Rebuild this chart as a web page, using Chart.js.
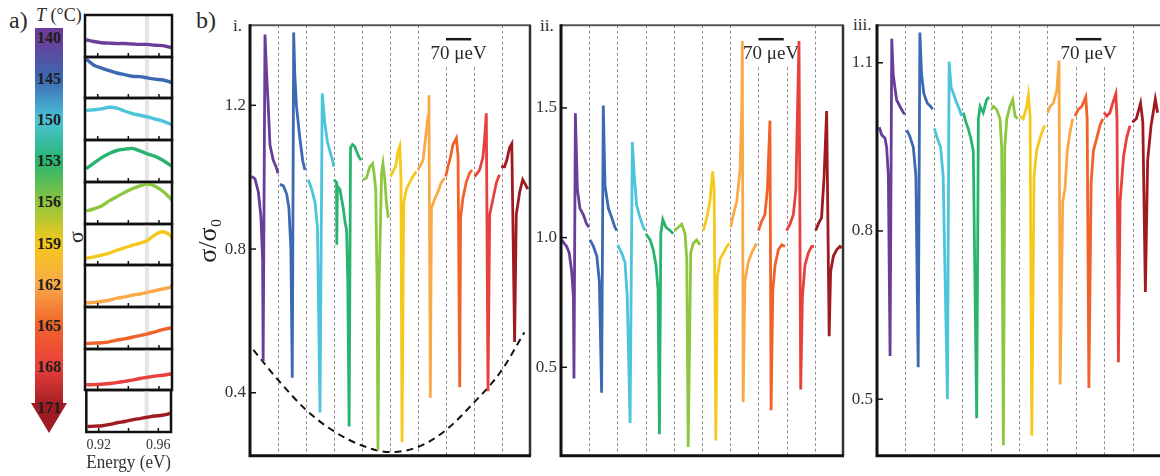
<!DOCTYPE html>
<html>
<head>
<meta charset="utf-8">
<script src="https://cdn.jsdelivr.net/npm/chart.js@4.4.1/dist/chart.umd.min.js"></script>
<style>
  body { margin: 0; width: 1160px; height: 476px; overflow: hidden; background: #fff; position: relative;
         font-family: "Liberation Serif", serif; color: #2a2a2a; }
  canvas { position: absolute; }
  .lbl { position: absolute; white-space: nowrap; line-height: 1; }
  .temp { position: absolute; width: 28px; text-align: center; font-weight: bold; font-size: 16px; color: #1e1e1e; line-height: 1; }
</style>
</head>
<body>
<div class="lbl" style="left:9px;top:8px;font-size:24px">a)</div>
<div class="lbl" style="left:36px;top:6px;font-size:18px"><i>T</i> (°C)</div>
<div class="lbl" style="left:196px;top:8px;font-size:24px">b)</div>
<div class="lbl" style="left:233px;top:17px;font-size:17px">i.</div>
<div class="lbl" style="left:540px;top:17px;font-size:17px">ii.</div>
<div class="lbl" style="left:853px;top:16px;font-size:17px">iii.</div>
<div class="lbl" style="left:70px;top:226px;font-size:22px;transform:rotate(-90deg)">σ</div>
<div id="bar" style="position:absolute;left:35px;top:28px;width:28px;height:375px"></div>
<div style="position:absolute;left:31px;top:403px;width:0;height:0;border-left:18px solid transparent;border-right:18px solid transparent;border-top:30px solid #9e1b22"></div>

<script>
// temperatures of the ten spectra and the colour used for each
const temperatures = [140, 145, 150, 153, 156, 159, 162, 165, 168, 171];
const palette = ['#6a3d98', '#3b69b2', '#4cc4d9', '#28b46f', '#8dc63f',
                 '#f5c81c', '#f9aa48', '#f1622a', '#e8403c', '#a01b21'];

// broadband spectra (left column), sigma in arbitrary units per strip
const energyGrid = [0.9125, 0.9175, 0.9225, 0.9275, 0.9325, 0.9375, 0.9425,
                    0.9475, 0.9525, 0.9575, 0.9625, 0.9675, 0.9685];
const stripSpectra = [
  [0.41, 0.37, 0.34, 0.33, 0.32, 0.32, 0.31, 0.30, 0.30, 0.28, 0.27, 0.23, 0.22],
  [0.95, 0.80, 0.73, 0.67, 0.61, 0.57, 0.53, 0.52, 0.49, 0.46, 0.44, 0.39, 0.37],
  [0.70, 0.72, 0.74, 0.78, 0.76, 0.69, 0.63, 0.59, 0.55, 0.50, 0.45, 0.38, 0.36],
  [0.32, 0.45, 0.58, 0.68, 0.75, 0.78, 0.80, 0.74, 0.67, 0.61, 0.52, 0.40, 0.37],
  [0.31, 0.36, 0.43, 0.55, 0.65, 0.75, 0.84, 0.91, 0.95, 0.90, 0.78, 0.61, 0.57],
  [0.16, 0.20, 0.24, 0.29, 0.36, 0.42, 0.48, 0.53, 0.60, 0.74, 0.81, 0.72, 0.64],
  [0.10, 0.11, 0.13, 0.16, 0.21, 0.24, 0.28, 0.31, 0.35, 0.39, 0.43, 0.47, 0.53],
  [0.13, 0.14, 0.15, 0.17, 0.21, 0.24, 0.28, 0.32, 0.36, 0.41, 0.46, 0.50, 0.51],
  [0.13, 0.13, 0.14, 0.16, 0.18, 0.21, 0.24, 0.28, 0.31, 0.34, 0.36, 0.39, 0.40],
  [0.13, 0.14, 0.15, 0.18, 0.22, 0.25, 0.29, 0.32, 0.35, 0.38, 0.40, 0.44, 0.46]
];
const energyRange = [0.9117, 0.9685];
const energyTicks = [0.92, 0.94, 0.96];
const energyTickLabels = ['0.92', '', '0.96'];
const bandRange = [0.9508, 0.9534];

// narrow scans: one window per temperature, x in window units
const segmentEdges = [1, 2, 3, 4, 5, 6, 7, 8, 9];
const scaleBarSpan = [7.0, 7.9];

const panelI = [
  [[0.06, 1.002], [0.18, 0.995], [0.30, 0.958], [0.39, 0.89], [0.45, 0.77], [0.47, 0.488], [0.535, 1.397], [0.595, 1.286], [0.652, 1.197], [0.713, 1.09], [0.831, 1.047], [0.927, 1.03], [1.0, 1.011]],
  [[1.07, 0.98], [1.19, 0.976], [1.31, 0.953], [1.39, 0.914], [1.46, 0.80], [1.51, 0.442], [1.56, 1.403], [1.60, 1.286], [1.66, 1.197], [1.78, 1.109], [1.88, 1.047], [1.96, 1.02]],
  [[2.08, 0.993], [2.20, 0.967], [2.32, 0.931], [2.41, 0.86], [2.50, 0.345], [2.58, 1.233], [2.67, 1.153], [2.76, 1.10], [2.85, 1.073], [2.95, 1.047], [2.99, 1.029]],
  [[3.0, 0.993], [3.09, 0.985], [3.10, 0.812], [3.12, 0.975], [3.21, 0.967], [3.27, 0.94], [3.33, 0.914], [3.39, 0.878], [3.45, 0.852], [3.49, 0.72], [3.54, 0.306], [3.59, 1.082], [3.66, 1.091], [3.74, 1.086], [3.80, 1.073], [3.89, 1.056], [3.97, 1.047]],
  [[4.04, 0.993], [4.16, 0.998], [4.28, 1.029], [4.38, 1.038], [4.43, 1.011], [4.49, 0.967], [4.54, 0.70], [4.57, 0.24], [4.61, 0.70], [4.70, 1.011], [4.75, 1.038], [4.81, 0.998], [4.87, 0.931], [4.94, 0.887]],
  [[5.02, 1.002], [5.11, 1.016], [5.20, 1.03], [5.29, 1.073], [5.35, 1.087], [5.39, 1.0], [5.43, 0.262], [5.49, 0.93], [5.59, 0.967], [5.70, 0.985], [5.82, 1.002], [5.94, 1.016]],
  [[6.00, 1.02], [6.06, 1.029], [6.18, 1.047], [6.27, 1.109], [6.36, 1.171], [6.39, 1.228], [6.44, 0.386], [6.48, 0.914], [6.60, 0.94], [6.71, 0.958], [6.83, 0.985], [6.95, 0.998]],
  [[6.99, 1.002], [7.07, 1.029], [7.16, 1.056], [7.25, 1.091], [7.37, 1.109], [7.43, 1.06], [7.49, 0.415], [7.52, 0.887], [7.60, 0.94], [7.72, 0.985], [7.84, 1.011], [7.93, 1.02]],
  [[8.02, 1.002], [8.08, 1.007], [8.20, 1.02], [8.32, 1.056], [8.38, 1.109], [8.44, 1.178], [8.50, 0.404], [8.56, 0.896], [8.68, 0.94], [8.80, 0.985], [8.91, 1.007]],
  [[8.97, 1.029], [9.09, 1.029], [9.17, 1.047], [9.27, 1.082], [9.35, 1.093], [9.45, 0.541], [9.51, 0.896], [9.63, 0.958], [9.74, 0.993], [9.86, 0.976], [9.92, 0.967]]
];
const envelopeI = [[0.12, 0.519], [1.01, 0.435], [2.02, 0.351], [2.99, 0.293], [4.0, 0.253], [4.99, 0.235],
                   [6.0, 0.249], [6.98, 0.295], [7.94, 0.368], [8.94, 0.457], [9.8, 0.568]];

const panelII = [
  [[0.02, 0.991], [0.20, 0.966], [0.29, 0.942], [0.38, 0.868], [0.44, 0.77], [0.46, 0.457], [0.51, 1.479], [0.58, 1.187], [0.67, 1.113], [0.79, 1.089], [0.91, 1.052], [0.99, 1.04]],
  [[1.03, 0.991], [1.15, 0.966], [1.27, 0.929], [1.36, 0.831], [1.44, 0.402], [1.50, 1.509], [1.56, 1.20], [1.68, 1.113], [1.80, 1.077], [1.91, 1.04], [1.98, 1.027]],
  [[2.01, 0.972], [2.15, 0.941], [2.27, 0.904], [2.35, 0.77], [2.45, 0.285], [2.53, 1.369], [2.60, 1.236], [2.68, 1.126], [2.80, 1.077], [2.92, 1.04], [2.98, 1.027]],
  [[3.01, 1.015], [3.16, 0.991], [3.27, 0.954], [3.37, 0.893], [3.44, 0.80], [3.49, 0.242], [3.54, 1.015], [3.61, 1.07], [3.72, 1.04], [3.87, 1.027], [3.98, 1.015]],
  [[4.02, 1.027], [4.16, 1.04], [4.28, 1.052], [4.40, 1.015], [4.46, 0.917], [4.51, 0.193], [4.60, 0.941], [4.69, 0.978], [4.81, 0.991], [4.93, 0.972]],
  [[5.05, 1.027], [5.17, 1.077], [5.28, 1.138], [5.38, 1.255], [5.43, 1.187], [5.49, 0.218], [5.54, 0.843], [5.64, 0.917], [5.76, 0.941], [5.88, 0.966], [5.97, 0.978]],
  [[6.02, 1.04], [6.11, 1.089], [6.23, 1.138], [6.35, 1.261], [6.41, 1.506], [6.43, 1.758], [6.46, 0.365], [6.52, 0.831], [6.64, 0.905], [6.76, 0.941], [6.88, 0.966], [6.94, 0.978]],
  [[7.00, 1.027], [7.12, 1.064], [7.23, 1.089], [7.32, 1.187], [7.41, 1.451], [7.45, 0.334], [7.51, 0.795], [7.59, 0.893], [7.71, 0.954], [7.83, 0.972], [7.94, 0.966]],
  [[8.00, 1.027], [8.12, 1.052], [8.24, 1.089], [8.33, 1.187], [8.39, 1.506], [8.44, 1.758], [8.50, 0.414], [8.56, 0.77], [8.65, 0.893], [8.77, 0.941], [8.89, 0.966], [8.97, 0.966]],
  [[9.03, 1.027], [9.12, 1.052], [9.24, 1.077], [9.33, 1.236], [9.42, 1.488], [9.51, 0.62], [9.56, 0.868], [9.66, 0.929], [9.78, 0.954], [9.89, 0.966], [9.95, 0.96]]
];

const panelIII = [
  [[0.08, 0.985], [0.17, 0.971], [0.28, 0.966], [0.34, 0.949], [0.40, 0.898], [0.46, 0.577], [0.52, 1.143], [0.57, 1.079], [0.63, 1.056], [0.69, 1.034], [0.81, 1.022], [0.93, 1.011], [0.99, 1.008]],
  [[1.05, 0.98], [1.16, 0.968], [1.28, 0.949], [1.37, 0.898], [1.45, 0.557], [1.51, 1.154], [1.57, 1.079], [1.65, 1.045], [1.77, 1.028], [1.89, 1.022], [1.96, 1.017]],
  [[2.02, 0.983], [2.12, 0.966], [2.24, 0.949], [2.33, 0.898], [2.48, 0.50], [2.54, 1.102], [2.61, 1.056], [2.69, 1.045], [2.81, 1.028], [2.90, 1.017], [2.98, 1.005]],
  [[3.04, 1.011], [3.13, 0.994], [3.21, 0.983], [3.30, 0.966], [3.39, 0.943], [3.51, 0.466], [3.57, 1.0], [3.63, 1.022], [3.74, 1.011], [3.86, 1.034], [3.95, 1.039]],
  [[4.04, 1.017], [4.10, 1.022], [4.21, 1.017], [4.33, 1.0], [4.39, 0.95], [4.45, 0.418], [4.50, 0.95], [4.57, 1.0], [4.68, 1.022], [4.78, 1.034], [4.86, 1.005], [4.95, 1.0]],
  [[5.04, 1.005], [5.15, 1.0], [5.27, 1.022], [5.33, 1.042], [5.39, 1.005], [5.45, 0.435], [5.53, 0.898], [5.62, 0.943], [5.74, 0.966], [5.86, 0.983], [5.92, 0.988]],
  [[6.01, 1.011], [6.09, 1.022], [6.21, 1.028], [6.33, 1.051], [6.41, 1.104], [6.45, 0.526], [6.54, 0.852], [6.62, 0.875], [6.70, 0.943], [6.80, 0.977], [6.89, 1.0]],
  [[6.97, 1.005], [7.09, 1.017], [7.21, 1.022], [7.35, 1.039], [7.40, 1.0], [7.46, 0.52], [7.54, 0.886], [7.62, 0.943], [7.74, 0.966], [7.85, 0.988], [7.95, 1.0]],
  [[7.99, 1.011], [8.09, 1.005], [8.20, 1.011], [8.30, 1.028], [8.41, 1.045], [8.45, 1.0], [8.50, 0.566], [8.56, 0.852], [8.68, 0.932], [8.79, 0.966], [8.91, 0.988]],
  [[8.99, 0.994], [9.13, 1.0], [9.28, 1.028], [9.36, 0.994], [9.45, 0.691], [9.53, 0.926], [9.65, 0.988], [9.80, 1.035], [9.88, 1.011]]
];

const rangeI = [0.2245, 1.423], ticksI = [0.4, 0.8, 1.2];
const rangeII = [0.1587, 1.819], ticksII = [0.5, 1.0, 1.5];
const rangeIII = [0.399, 1.167], ticksIII = [0.5, 0.8, 1.1];

Chart.defaults.font.family = '"Liberation Serif", serif';
Chart.defaults.color = '#333';

// colour bar with the temperature labels
(function () {
  const bar = document.getElementById('bar');
  const stops = palette.map((c, i) => c + ' ' + (2.6 + i * 10.96).toFixed(1) + '%');
  bar.style.background = 'linear-gradient(to bottom, ' + palette[0] + ' 0%, ' + stops.join(', ') + ')';
  temperatures.forEach((t, i) => {
    const d = document.createElement('div');
    d.className = 'temp';
    d.textContent = t;
    d.style.left = '35px';
    d.style.top = (30 + i * 41.1) + 'px';
    document.body.appendChild(d);
  });
})();

function place(left, top, w, h) {
  const c = document.createElement('canvas');
  c.width = w; c.height = h;
  c.style.left = left + 'px'; c.style.top = top + 'px';
  c.style.width = w + 'px'; c.style.height = h + 'px';
  document.body.appendChild(c);
  return c.getContext('2d');
}

// band, frame and inward ticks of each small strip
const stripDecor = {
  id: 'stripDecor',
  beforeDatasetsDraw(chart) {
    const { ctx, chartArea: a, scales: { x } } = chart;
    const b0 = x.getPixelForValue(bandRange[0]), b1 = x.getPixelForValue(bandRange[1]);
    ctx.save();
    ctx.fillStyle = '#e4e4e4';
    ctx.fillRect(b0, a.top, b1 - b0, a.bottom - a.top);
    ctx.restore();
  },
  afterDraw(chart) {
    const { ctx, chartArea: a, scales: { x } } = chart;
    ctx.save();
    ctx.strokeStyle = '#111';
    ctx.lineWidth = 2.5;
    ctx.strokeRect(a.left, a.top, a.right - a.left, a.bottom - a.top);
    ctx.lineWidth = 1.5;
    energyTicks.forEach(e => {
      const px = x.getPixelForValue(e);
      ctx.beginPath(); ctx.moveTo(px, a.bottom); ctx.lineTo(px, a.bottom - 4); ctx.stroke();
    });
    ctx.restore();
  }
};

for (let k = 0; k < temperatures.length; k++) {
  const top = Math.round(15 + k * 41.7), bottom = Math.round(15 + (k + 1) * 41.7);
  const last = k === temperatures.length - 1;
  const ctx = place(81, top - 3, 95, bottom - top + 3 + (last ? 44 : 3));
  new Chart(ctx, {
    type: 'scatter',
    data: {
      datasets: [{
        data: energyGrid.map((e, i) => ({ x: e, y: stripSpectra[k][i] })),
        borderColor: palette[k], borderWidth: 3.4, pointRadius: 0, showLine: true, tension: 0.3
      }]
    },
    options: {
      animation: false, responsive: false, events: [],
      layout: { padding: { left: 4, right: 4, top: 3, bottom: last ? 0 : 3 } },
      plugins: { legend: { display: false }, tooltip: { enabled: false } },
      scales: {
        x: {
          type: 'linear', min: energyRange[0], max: energyRange[1], display: last,
          afterBuildTicks: s => { s.ticks = energyTicks.map(v => ({ value: v })); },
          afterFit: s => { s.height = last ? 44 : 0; },
          grid: { display: false, drawTicks: false }, border: { display: false },
          ticks: { padding: 5, color: '#333', font: { size: 14 }, maxRotation: 0, autoSkip: false,
                   callback: (v, i) => energyTickLabels[i] },
          title: { display: true, text: 'Energy (eV)', color: '#333', font: { size: 18 }, padding: { top: 0, bottom: 2 } }
        },
        y: { display: false, min: 0, max: 1 }
      }
    },
    plugins: [stripDecor]
  });
}

// dashed window edges, scale bar, frame and inward y ticks of a scan panel
const panelDecor = {
  id: 'panelDecor',
  beforeDatasetsDraw(chart, args, opts) {
    const { ctx, chartArea: a, scales: { x } } = chart;
    ctx.save();
    ctx.strokeStyle = '#8f8f8f';
    ctx.lineWidth = 1;
    ctx.setLineDash([3, 2.5]);
    segmentEdges.forEach(e => {
      const px = Math.round(x.getPixelForValue(e)) + 0.5;
      const cut = e >= Math.floor(scaleBarSpan[0]) && e <= Math.ceil(scaleBarSpan[1]);
      ctx.beginPath(); ctx.moveTo(px, cut ? a.top + 42 : a.top); ctx.lineTo(px, a.bottom); ctx.stroke();
    });
    ctx.setLineDash([]);
    const x0 = x.getPixelForValue(scaleBarSpan[0]), x1 = x.getPixelForValue(scaleBarSpan[1]);
    ctx.strokeStyle = '#1a1a1a';
    ctx.lineWidth = 2.5;
    ctx.beginPath(); ctx.moveTo(x0, a.top + 14); ctx.lineTo(x1, a.top + 14); ctx.stroke();
    ctx.fillStyle = '#2a2a2a';
    ctx.font = '19px "Liberation Serif"';
    ctx.textAlign = 'center';
    ctx.textBaseline = 'middle';
    ctx.fillText('70 μeV', (x0 + x1) / 2, a.top + 29);
    ctx.restore();
  },
  afterDraw(chart, args, opts) {
    const { ctx, chartArea: a, scales: { y } } = chart;
    ctx.save();
    ctx.strokeStyle = '#555';
    ctx.lineWidth = 2;
    ctx.beginPath(); ctx.moveTo(a.left, a.top); ctx.lineTo(a.right + 1, a.top); ctx.stroke();
    if (opts.rightSide) {
      ctx.strokeStyle = '#333';
      ctx.lineWidth = 2.5;
      ctx.beginPath(); ctx.moveTo(a.right, a.top); ctx.lineTo(a.right, a.bottom); ctx.stroke();
    }
    ctx.strokeStyle = '#111';
    ctx.lineWidth = 3;
    ctx.beginPath(); ctx.moveTo(a.left, a.top - 1); ctx.lineTo(a.left, a.bottom); ctx.lineTo(a.right + 1, a.bottom); ctx.stroke();
    ctx.lineWidth = 1.5;
    y.ticks.forEach(t => {
      const py = y.getPixelForValue(t.value);
      ctx.beginPath(); ctx.moveTo(a.left, py); ctx.lineTo(a.left + 6, py); ctx.stroke();
    });
    ctx.restore();
  }
};

function scanPanel(left, width, axisWidth, segments, range, ticks, extra) {
  const ctx = place(left, 11, width, 459);
  const datasets = segments.map((pts, k) => ({
    data: pts.map(p => ({ x: p[0], y: p[1] })),
    borderColor: palette[k], borderWidth: 2.8, pointRadius: 0, showLine: true, tension: 0
  }));
  if (extra.envelope) {
    datasets.push({
      data: extra.envelope.map(p => ({ x: p[0], y: p[1] })),
      borderColor: '#111', borderWidth: 2, borderDash: [7, 5], pointRadius: 0, showLine: true,
      cubicInterpolationMode: 'monotone'
    });
  }
  new Chart(ctx, {
    type: 'scatter',
    data: { datasets },
    options: {
      animation: false, responsive: false, events: [],
      layout: { padding: { left: 0, right: 4, top: 4, bottom: 4 } },
      plugins: { legend: { display: false }, tooltip: { enabled: false }, panelDecor: { rightSide: extra.rightSide } },
      scales: {
        x: { type: 'linear', display: false, min: 0, max: 10 },
        y: {
          min: range[0], max: range[1],
          afterBuildTicks: s => { s.ticks = ticks.map(v => ({ value: v })); },
          afterFit: s => { s.width = axisWidth; },
          grid: { display: false, drawTicks: false }, border: { display: false },
          ticks: { padding: 4, color: '#333', font: { size: 17 }, callback: v => v.toFixed(1) },
          title: { display: !!extra.title, text: extra.title, color: '#222', font: { size: 26 }, padding: { top: 8, bottom: 0 } }
        }
      }
    },
    plugins: [panelDecor]
  });
}

scanPanel(186, 348, 64, panelI, rangeI, ticksI, { title: 'σ/σ₀', envelope: envelopeI, rightSide: true });
scanPanel(531, 316, 30, panelII, rangeII, ticksII, { rightSide: true });
scanPanel(847, 318, 30, panelIII, rangeIII, ticksIII, { rightSide: false });
</script>
</body>
</html>
